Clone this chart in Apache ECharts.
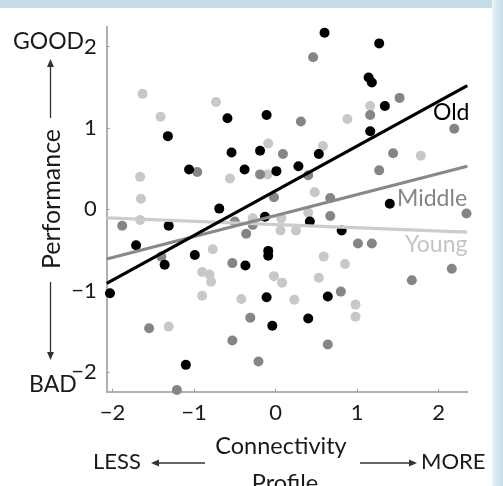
<!DOCTYPE html>
<html><head><meta charset="utf-8">
<script src="https://cdn.jsdelivr.net/npm/echarts@6/dist/echarts.min.js"></script>
<style>html,body{margin:0;padding:0;background:#fff}#c{width:503px;height:486px}</style>
</head><body><div id="c"></div>
<script>
// ---- data ----
const tickValues = [-2, -1, 0, 1, 2];
const xRange = [-2.07, 2.35];
const yRange = [-2.24, 2.245];

const youngX = [-1.63,-1.41,-0.73,-0.09,-0.56,-1.66,-1.65,-1.66,-0.10,-0.28,-0.77,-0.90,-0.81,-0.79,-0.90,-0.42,-1.31,-0.02,0.08,0.06,0.07,0.25,0.40,1.16,0.88,0.58,1.78,0.48,0.59,0.85,0.53,0.23,0.98,0.98];
const youngY = [1.42,1.14,1.32,0.81,0.38,0.40,0.13,-0.13,0.43,-0.11,-0.49,-0.77,-0.80,-0.89,-1.06,-1.10,-1.44,-0.82,-0.90,-0.26,-0.11,-0.26,-0.04,1.27,1.11,0.78,0.66,0.21,-0.58,-0.67,-0.84,-1.11,-1.17,-1.32];

const middleX = [0.46,1.52,1.16,0.31,2.19,0.09,1.44,1.27,0.40,-0.02,0.67,-2.08,-0.96,-0.19,-1.88,-1.40,-0.50,-0.28,-0.36,-0.53,-0.31,-0.53,-1.55,-0.21,-1.21,0.67,2.34,1.01,1.18,1.67,2.16,0.80,0.64];
const middleY = [1.87,1.37,1.16,1.08,0.99,0.68,0.69,0.48,0.42,0.15,0.14,0.43,0.46,0.43,-0.20,-0.58,-0.15,-0.19,-0.30,-0.66,-1.33,-1.61,-1.46,-1.87,-2.22,-0.08,-0.05,-0.42,-0.42,-0.87,-0.73,-1.01,-1.66];

const oldX = [0.60,1.27,1.14,1.18,1.34,1.16,0.53,0.28,0.01,-0.11,-0.59,-1.32,-0.54,-0.19,-0.38,-1.06,-0.69,-1.31,-1.71,-1.36,-0.99,-0.13,-0.09,-0.09,-0.37,-2.03,-0.11,-0.04,-1.10,1.40,0.42,0.81,0.64,0.40];
const oldY = [2.17,2.04,1.62,1.56,1.27,0.96,0.68,0.53,0.47,1.16,1.12,0.90,0.70,0.72,0.49,0.49,0.01,-0.20,-0.44,-0.68,-0.56,-0.09,-0.51,-0.57,-0.69,-1.03,-1.08,-1.43,-1.91,0.07,-0.15,-0.26,-1.07,-1.34];

// fitted lines: [y at left edge, y at right edge]
const fitX = [-2.07, 2.35];
const oldFit = [-0.91, 1.52];
const middleFit = [-0.61, 0.53];
const youngFit = [-0.105, -0.28];

const groupNames = ['Young', 'Middle', 'Old'];
// ----------------------------------------

const FONT = 'Lato, "Open Sans", sans-serif';
const pts = (xs, ys) => xs.map((x, i) => [x, ys[i]]);
const fit = (ys) => fitX.map((x, i) => [x, ys[i]]);
const fmt = v => String(v).replace('-', '\u2212');

const colors = {Young: '#c8c8c8', Middle: '#858585', Old: '#000000'};

const chart = echarts.init(document.getElementById('c'), null, {renderer: 'canvas'});

function arrow(x1, y1, x2, y2) {
  const dx = x2 - x1, dy = y2 - y1, L = Math.hypot(dx, dy);
  const ux = dx / L, uy = dy / L, hl = 8, hw = 3.5;
  const bx = x2 - ux * hl, by = y2 - uy * hl;
  return [
    {type: 'line', shape: {x1, y1, x2: bx, y2: by}, style: {stroke: '#333', lineWidth: 1.3}},
    {type: 'polygon', shape: {points: [[x2, y2], [bx - uy * hw, by + ux * hw], [bx + uy * hw, by - ux * hw]]}, style: {fill: '#333'}}
  ];
}

const txt = (text, x, y, opts = {}) => ({
  type: 'text', x, y, rotation: opts.rotation || 0,
  style: {text, fill: opts.color || '#1a1a1a', font: (opts.size || 22) + 'px ' + FONT,
          align: opts.align || 'left', verticalAlign: 'middle'}
});

const graphics = [
  {type: 'rect', shape: {x: 0, y: 0, width: 503, height: 8}, style: {fill: '#c6dce8'}, z: -1},
  {type: 'rect', shape: {x: 492, y: 0, width: 11, height: 486},
   style: {fill: new echarts.graphic.LinearGradient(0, 0, 1, 0, [{offset: 0, color: '#eef5f9'}, {offset: 0.45, color: '#d5e6ef'}, {offset: 1, color: '#c6dce8'}])}, z: -1},
  txt('GOOD', 13, 42, {size: 23}),
  txt('BAD', 29, 385, {size: 23}),
  ...arrow(50.5, 118, 50.5, 59),
  ...arrow(50.5, 282, 50.5, 360),
  txt('Performance', 52, 199, {rotation: Math.PI / 2, align: 'center', size: 25}),
  txt('LESS', 93, 462, {size: 22}),
  ...arrow(205, 463, 151, 463),
  ...arrow(360, 463, 417, 463),
  txt('MORE', 421, 462, {size: 22}),
  txt('Connectivity', 281, 446, {align: 'center', size: 23.5}),
  txt('Profile', 285, 483, {align: 'center', size: 23.5}),
  txt('Old', 433, 113, {color: colors.Old, size: 23}),
  txt('Middle', 397, 199, {color: colors.Middle, size: 23}),
  txt('Young', 405, 245, {color: '#c4c4c4', size: 23})
];

const axisCommon = {
  type: 'value',
  axisLine: {show: true, onZero: false, lineStyle: {color: '#b0b0b0', width: 2}},
  axisTick: {show: true, inside: true, length: 3, customValues: tickValues, lineStyle: {color: '#a0a0a0', width: 1}},
  splitLine: {show: false},
  axisLabel: {customValues: tickValues, formatter: fmt, color: '#1a1a1a', fontSize: 22, fontFamily: FONT, margin: 10}
};

const seriesList = [];
const scatterData = {Young: pts(youngX, youngY), Middle: pts(middleX, middleY), Old: pts(oldX, oldY)};
const fitData = {Young: fit(youngFit), Middle: fit(middleFit), Old: fit(oldFit)};
groupNames.forEach((g, i) => {
  seriesList.push({
    name: g, type: 'scatter', data: scatterData[g], symbolSize: 10, z: 2 + i,
    itemStyle: {color: colors[g], opacity: 1}, silent: true
  });
});
groupNames.forEach((g, i) => {
  seriesList.push({
    name: g + ' fit', type: 'line', data: fitData[g], symbol: 'none', z: 6 + i,
    lineStyle: {color: g === 'Young' ? '#cccccc' : (g === 'Middle' ? '#888888' : '#000000'), width: 3.2},
    silent: true, animation: false
  });
});

chart.setOption({
  animation: false,
  backgroundColor: '#ffffff',
  grid: {left: 106.7, right: 35.7, top: 26.7, bottom: 94.3, containLabel: false, outerBoundsMode: 'none'},
  xAxis: Object.assign({}, axisCommon, {min: xRange[0], max: xRange[1]}),
  yAxis: Object.assign({}, axisCommon, {min: yRange[0], max: yRange[1]}),
  series: seriesList,
  graphic: graphics
});
</script>
</body></html>
